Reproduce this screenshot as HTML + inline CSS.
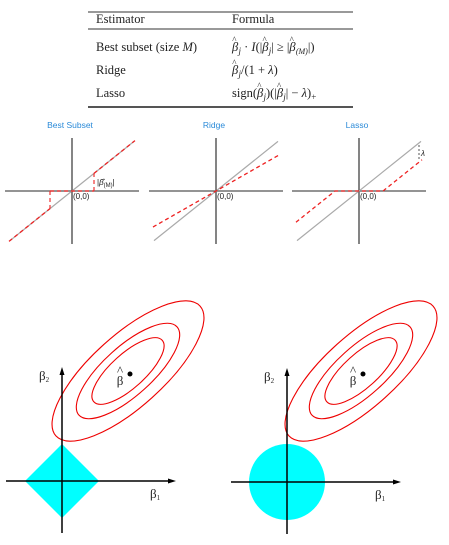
<!DOCTYPE html>
<html><head><meta charset="utf-8"><style>
html,body{margin:0;padding:0;background:#fff;}
svg{display:block;}
.tb{font-family:"Liberation Serif",serif;font-size:12.5px;fill:#222;}
.ti{font-family:"Liberation Sans",sans-serif;font-size:8.5px;fill:#2a8ad8;}
.lb{font-family:"Liberation Sans",sans-serif;font-size:8px;fill:#222;}
.gr{font-family:"Liberation Serif",serif;font-size:13px;fill:#222;}
</style></head><body>
<svg id="s" width="449" height="545" viewBox="0 0 449 545">
<g>
<line x1="88" y1="12" x2="353" y2="12" stroke="#333" stroke-width="1"/>
<text class="tb" x="96" y="23">Estimator</text>
<text class="tb" x="232" y="23">Formula</text>
<line x1="88" y1="29" x2="353" y2="29" stroke="#333" stroke-width="1"/>
<text class="tb" x="96" y="51">Best subset (size <tspan font-style="italic">M</tspan>)</text>
<text class="tb" x="232" y="51"><tspan font-style="italic">β</tspan><tspan font-size="9" dx="-6" dy="-8">^</tspan><tspan font-size="9" font-style="italic" dx="2" dy="11">j</tspan><tspan dy="-3"> · </tspan><tspan font-style="italic">I</tspan>(|<tspan font-style="italic">β</tspan><tspan font-size="9" dx="-6" dy="-8">^</tspan><tspan font-size="9" font-style="italic" dx="2" dy="11">j</tspan><tspan dy="-3">| ≥ |</tspan><tspan font-style="italic">β</tspan><tspan font-size="9" dx="-6" dy="-8">^</tspan><tspan font-size="8" font-style="italic" dx="2" dy="11">(M)</tspan><tspan dy="-3">|)</tspan></text>
<text class="tb" x="96" y="74">Ridge</text>
<text class="tb" x="232" y="74"><tspan font-style="italic">β</tspan><tspan font-size="9" dx="-6" dy="-8">^</tspan><tspan font-size="9" font-style="italic" dx="2" dy="11">j</tspan><tspan dy="-3">/(1 + <tspan font-style="italic">λ</tspan>)</tspan></text>
<text class="tb" x="96" y="97">Lasso</text>
<text class="tb" x="232" y="97">sign(<tspan font-style="italic">β</tspan><tspan font-size="9" dx="-6" dy="-8">^</tspan><tspan font-size="9" font-style="italic" dx="2" dy="11">j</tspan><tspan dy="-3">)(|</tspan><tspan font-style="italic">β</tspan><tspan font-size="9" dx="-6" dy="-8">^</tspan><tspan font-size="9" font-style="italic" dx="2" dy="11">j</tspan><tspan dy="-3">| − </tspan><tspan font-style="italic">λ</tspan>)<tspan font-size="9" dy="3">+</tspan></text>
<line x1="88" y1="107" x2="353" y2="107" stroke="#555" stroke-width="2"/>
</g>
<g id="panels"></g>
<g id="bottom"></g>
</svg>
<script>
// thresholding panels (pixel-space data units, slope of identity line)
const panelNames = ["Best Subset","Ridge","Lasso"];
const panelOriginX = [72, 216, 359];
const identitySlope = 0.8;
const bestSubsetThreshold = 22;
const ridgeLambda = 0.4;
const lassoLambda = 24;
// constraint regions
const constraintRadius = [37, 38];
const ellipseScales = [97, 66, 46];
const ellipseRatio = 0.37;
const ellipseAngle = -42;
const betaHat = [[130, 374], [363, 374]];

const NS = "http://www.w3.org/2000/svg";
function mk(tag, attrs, parent){const e=document.createElementNS(NS,tag);for(const k in attrs)e.setAttribute(k,attrs[k]);parent.appendChild(e);return e;}
const P = document.getElementById('panels');
const oy = 191, half = 67;
function sx(ox,v){return ox+v;}
function sy(v){return oy-v*identitySlope;}
panelNames.forEach((nm,i)=>{
  const ox = panelOriginX[i];
  const g = mk('g',{},P);
  
  
  const t = mk('text',{x:ox-2,y:128,'text-anchor':'middle',class:'ti'},g); t.textContent=nm;
  
  
  const ax = mk('line',{x1:ox-half,y1:oy,x2:ox+half,y2:oy,stroke:'#555','stroke-width':1.2},g);
  
  
  const ay = mk('line',{x1:ox,y1:138,x2:ox,y2:244,stroke:'#333','stroke-width':1.2},g);
  
  
  const id = mk('line',{x1:sx(ox,-62),y1:sy(-62),x2:sx(ox,62),y2:sy(62),stroke:'#aaa','stroke-width':1.2},g);
  
  
  const f = v=>{
    if(i===0) return Math.abs(v)>=bestSubsetThreshold?v:0;
    if(i===1) return v/(1+ridgeLambda);
    return Math.sign(v)*Math.max(Math.abs(v)-lassoLambda,0);
  };
  let d='';
  for(let v=-63; v<=63; v+=1){d+=(v===-63?'M':'L')+sx(ox,v)+','+sy(f(v))+' ';}
  if(i===0){
    d='M'+sx(ox,-63)+','+sy(-63)+' L'+sx(ox,-bestSubsetThreshold)+','+sy(-bestSubsetThreshold)+' M'+sx(ox,-bestSubsetThreshold)+','+oy+' L'+sx(ox,bestSubsetThreshold)+','+oy+' M'+sx(ox,bestSubsetThreshold)+','+sy(bestSubsetThreshold)+' L'+sx(ox,63)+','+sy(63);
    ['-','+'].forEach(s=>{const v=(s==='-'?-1:1)*bestSubsetThreshold;
      const vl=mk('line',{x1:sx(ox,v),y1:oy,x2:sx(ox,v),y2:sy(v),stroke:'#e33','stroke-width':1.2,'stroke-dasharray':'4,3'},g);
      
      });
    const l = mk('text',{x:ox+25,y:oy-6,class:'lb'},g); l.innerHTML='|<tspan font-style="italic">β̂</tspan><tspan font-size="6" dy="2">(M)</tspan><tspan dy="-2">|</tspan>';
    
    
  }
  const r = mk('path',{d:d,fill:'none',stroke:'#e22','stroke-width':1.3,'stroke-dasharray':'4,3'},g);
  
  
  if(i===2){
    const v=60;
    const b = mk('line',{x1:sx(ox,v),y1:sy(v)+2,x2:sx(ox,v),y2:sy(f(v))-2,stroke:'#555','stroke-width':1,'stroke-dasharray':'2,2'},g);
    
    
    const lt = mk('text',{x:sx(ox,v)+2,y:sy(v)+13,class:'lb','font-style':'italic'},g); lt.textContent='λ';
    
    
  }
  const o = mk('text',{x:ox+1,y:oy+8,class:'lb'},g); o.textContent='(0,0)';
  
  
});

const B = document.getElementById('bottom');
const origins=[[62,481],[287,482]];
origins.forEach((o,i)=>{
  const g = mk('g',{},B);
  
  
  const R=constraintRadius[i];
  let reg;
  if(i===0) reg=mk('polygon',{points:`${o[0]-R},${o[1]} ${o[0]},${o[1]-R} ${o[0]+R},${o[1]} ${o[0]},${o[1]+R}`,fill:'#00ffff'},g);
  else reg=mk('circle',{cx:o[0],cy:o[1],r:R,fill:'#00ffff'},g);
  
  
  const c=betaHat[i];
  ellipseScales.forEach((a,k)=>{
    const e=mk('ellipse',{cx:c[0]-2,cy:c[1]-3,rx:a,ry:a*ellipseRatio,fill:'none',stroke:'#e00','stroke-width':1.1,transform:`rotate(${ellipseAngle} ${c[0]-2} ${c[1]-3})`},g);
    
    
  });
  const xa=mk('line',{x1:o[0]-56,y1:o[1],x2:o[0]+110,y2:o[1],stroke:'#000','stroke-width':1.5},g);
  
  
  mk('polygon',{points:`${o[0]+114},${o[1]} ${o[0]+106},${o[1]-2.5} ${o[0]+106},${o[1]+2.5}`,fill:'#000'},g);
  const ya=mk('line',{x1:o[0],y1:o[1]+52,x2:o[0],y2:o[1]-110,stroke:'#000','stroke-width':1.5},g);
  
  
  mk('polygon',{points:`${o[0]},${o[1]-114} ${o[0]-2.5},${o[1]-106} ${o[0]+2.5},${o[1]-106}`,fill:'#000'},g);
  const dot=mk('circle',{cx:c[0],cy:c[1],r:2.5,fill:'#000'},g);
  
  
  const bl=mk('text',{x:c[0]-10,y:c[1]+11,class:'gr','text-anchor':'middle'},g); bl.textContent='β';
  
  
  const hat=mk('text',{x:c[0]-10,y:c[1]+1,class:'gr','text-anchor':'middle','font-size':'8'},g); hat.textContent='^';
  const b2=mk('text',{x:o[0]-23,y:o[1]-101,class:'gr'},g); b2.innerHTML='β<tspan font-size="7" dy="2">2</tspan>';
  
  
  const b1=mk('text',{x:o[0]+88,y:o[1]+17,class:'gr'},g); b1.innerHTML='β<tspan font-size="7" dy="2">1</tspan>';
  
  
});
</script>
</body></html>
